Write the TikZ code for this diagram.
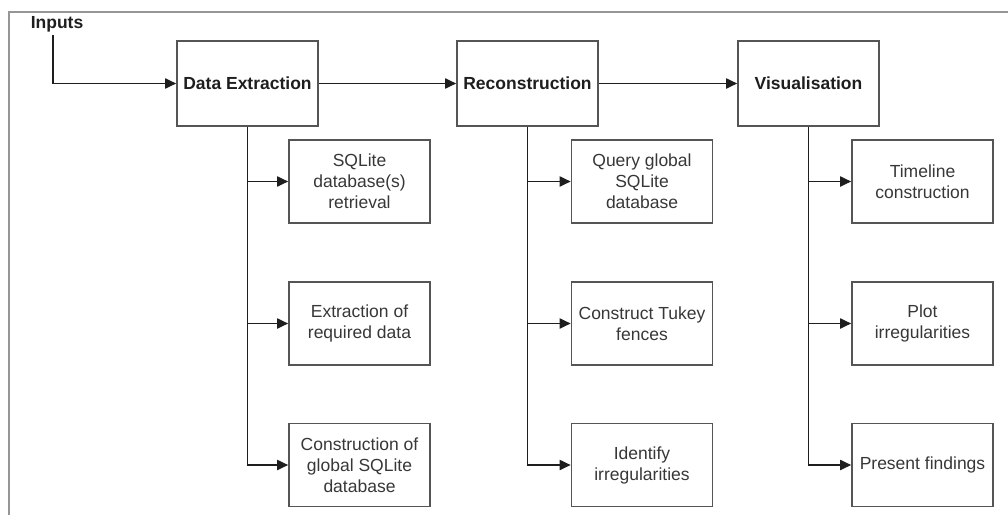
\documentclass[tikz,border=0pt]{standalone}
\usepackage{fontspec}
\setmainfont{Liberation Sans}
\usetikzlibrary{arrows.meta,positioning}
\definecolor{boxgray}{RGB}{85,85,85}
\definecolor{txtgray}{RGB}{55,55,55}
\definecolor{linedark}{RGB}{30,30,30}
\definecolor{framegray}{RGB}{150,150,150}

\begin{document}
\begin{tikzpicture}[x=1pt,y=-1pt,
  stage/.style={draw=boxgray, line width=1.6pt, minimum width=141pt, minimum height=85pt, inner sep=2pt, text=linedark, font=\fontsize{17.5}{21}\selectfont\bfseries},
  task/.style={draw=boxgray, line width=1.6pt, minimum width=141pt, minimum height=83pt, inner sep=2pt, align=center, text=txtgray, font=\fontsize{17.5}{21}\selectfont},
  link/.style={draw=linedark, line width=1.8pt, -{Triangle[length=11pt,width=10pt]}}]
\useasboundingbox (0,0) rectangle (1008,514);
\draw[framegray, line width=2.4pt] (9,516)--(9,12)--(1010,12);

\node[font=\fontsize{17.5}{21}\selectfont\bfseries, text=linedark] (inputs) at (57,24) {Inputs};
\node[stage] (extract) at (247.5,83.5) {Data Extraction};
\node[stage] (recon) at (527.5,83.5) {Reconstruction};
\node[stage] (visual) at (808.5,83.5) {Visualisation};

\node[task] (e1) at (359.5,181.5) {SQLite\\database(s)\\retrieval};
\node[task] (e2) at (359.5,323.5) {Extraction of\\required data};
\node[task] (e3) at (359.5,465) {Construction of\\global SQLite\\database};
\node[task] (r1) at (642,181.5) {Query global\\SQLite\\database};
\node[task] (r2) at (642,323.5) {Construct Tukey\\fences};
\node[task] (r3) at (642,465) {Identify\\irregularities};
\node[task] (v1) at (922.5,181.5) {Timeline\\construction};
\node[task] (v2) at (922.5,323.5) {Plot\\irregularities};
\node[task] (v3) at (922.5,465) {Present findings};

\draw[link] (inputs.south-|53,0) |- (extract.west);
\draw[link] (extract) -- (recon);
\draw[link] (recon) -- (visual);
\foreach \s/\t in {extract/e,recon/r,visual/v}{
  \foreach \i in {1,2,3}
    \draw[link] (\s.south) |- (\t\i.west);
}
\end{tikzpicture}
\end{document}
